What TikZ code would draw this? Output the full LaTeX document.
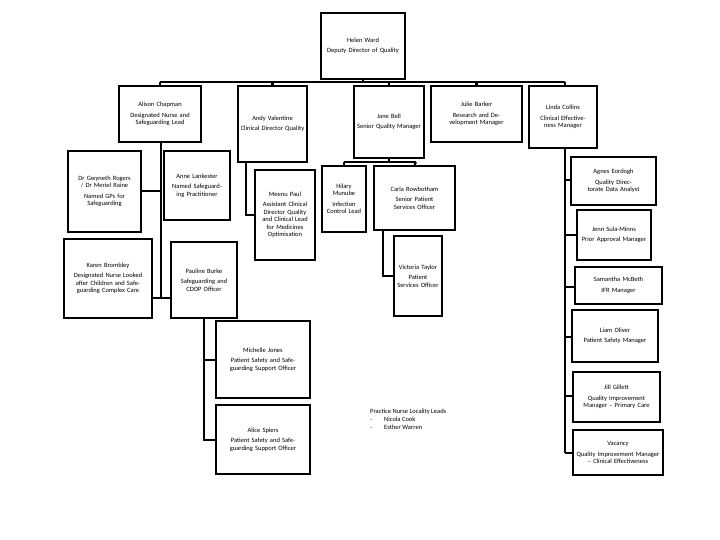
\documentclass[tikz,border=0pt]{standalone}
\usepackage{fontspec}
\setmainfont{Carlito}
\begin{document}
\begin{tikzpicture}[x=1pt,y=-1pt,
  box/.style={draw,line width=2.2pt,inner sep=1pt,align=center,font=\fontsize{6.5}{7.5}\selectfont},
  ln/.style={line width=2.2pt}]
\useasboundingbox (0,0) rectangle (720,540);
\newcommand\bx[6]{\node[box,minimum width=#4-#2,minimum height=#5-#3,text width=#4-#2-4] (#1) at ({(#2+#4)/2},{(#3+#5)/2}) {#6};}
\bx{helen}{321}{13}{405}{79}{Helen Ward\\[3pt]Deputy Director of Quality}
\bx{alison}{119}{86}{201}{142}{Alison Chapman\\[3pt]Designated Nurse and Safeguarding Lead}
\bx{andy}{238}{86}{307}{162}{Andy Valentine\\[3pt]Clinical Director Quality}
\bx{jane}{354}{86}{424}{158}{Jane Bell\\[3pt]Senior Quality Manager}
\bx{julie}{431}{86}{522}{142}{Julie Barker\\[3pt]Research and Development Manager}
\bx{linda}{529}{86}{597}{148}{Linda Collins\\[3pt]Clinical Effectiveness Manager}
\bx{gwyn}{68}{151}{141}{232}{Dr Gwyneth Rogers / Dr Meriel Raine\\[3pt]Named GPs for Safeguarding}
\bx{anne}{164}{151}{230}{220}{Anne Lankester\\[3pt]Named Safeguarding Practitioner}
\bx{karen}{64}{239}{152}{318}{Karen Brombley\\[3pt]Designated Nurse Looked after Children and Safeguarding Complex Care}
\bx{pauline}{171}{242}{237}{318}{Pauline Burke\\[3pt]Safeguarding and CDOP Officer}
\bx{meenu}{255}{170}{315}{260}{Meenu Paul\\[3pt]Assistant Clinical Director Quality and Clinical Lead for Medicines Optimisation}
\bx{hilary}{322}{166}{366}{232}{Hilary Munube\\[3pt]Infection Control Lead}
\bx{carla}{374}{166}{455}{230}{Carla Rowbotham\\[3pt]Senior Patient Services Officer}
\bx{victoria}{394}{236}{442}{316}{Victoria Taylor\\[3pt]Patient Services Officer}
\bx{agnes}{571}{157}{656}{205}{Agnes Eordogh\\[3pt]Quality Directorate Data Analyst}
\bx{jenn}{577}{210}{651}{260}{Jenn Sula-Minns\\[3pt]Prior Approval Manager}
\bx{sam}{575}{267}{662}{304}{Samantha McBeth\\[3pt]IFR Manager}
\bx{liam}{572}{310}{658}{362}{Liam Oliver\\[3pt]Patient Safety Manager}
\bx{jill}{573}{372}{660}{422}{Jill Gillett\\[3pt]Quality Improvement Manager -- Primary Care}
\bx{vac}{573}{430}{663}{475}{Vacancy\\[3pt]Quality Improvement Manager -- Clinical Effectiveness}
\bx{mich}{216}{321}{310}{398}{Michelle Jones\\[3pt]Patient Safety and Safeguarding Support Officer}
\bx{alice}{216}{405}{310}{474}{Alice Spiers\\[3pt]Patient Safety and Safeguarding Support Officer}
\node[anchor=north west,align=left,inner sep=0pt,font=\fontsize{6.5}{8}\selectfont] (pn) at (370,409)
 {Practice Nurse Locality Leads\\-\hspace{12pt}Nicola Cook\\-\hspace{12pt}Esther Warren};
% top level
\coordinate (bar) at (363,82);
\draw[ln] (helen.south) -- (bar);
\draw[ln] (160,82) -- (565,82);
\draw[ln] (160,82) -- (alison.north);
\draw[ln] (andy.north) -- (andy.north|-bar);
\draw[ln] (jane.north) -- (jane.north|-bar);
\draw[ln] (julie.north) -- (julie.north|-bar);
\draw[ln] (565,82) -- (565,86);
% Alison branch
\coordinate (at) at (161,298);
\draw[ln] (161,142) -- (at);
\draw[ln] (gwyn.east|-161,191) -- (161,191);
\draw[ln] (karen.east|-at) -- (pauline.west|-at);
\draw[ln] (204,318) -- (204,440) -- (alice.west|-204,440);
\draw[ln] (204,360) -- (mich.west|-204,360);
% Andy
\draw[ln] (246,162) -- (246,215) -- (meenu.west|-246,215);
% Jane
\draw[ln] (389,158) -- (389,162);
\draw[ln] (344,162) -- (416,162);
\draw[ln] (344,162) -- (hilary.north); \draw[ln] (416,162) -- (carla.north);
\draw[ln] (383,230) -- (383,276) -- (victoria.west|-383,276);
% Linda
\draw[ln] (565,148) -- (565,453);
\foreach \n/\y in {agnes/180,jenn/235,sam/287,liam/337,jill/396,vac/453}
  \draw[ln] (565,\y) -- (\n.west|-565,\y);
\end{tikzpicture}
\end{document}
